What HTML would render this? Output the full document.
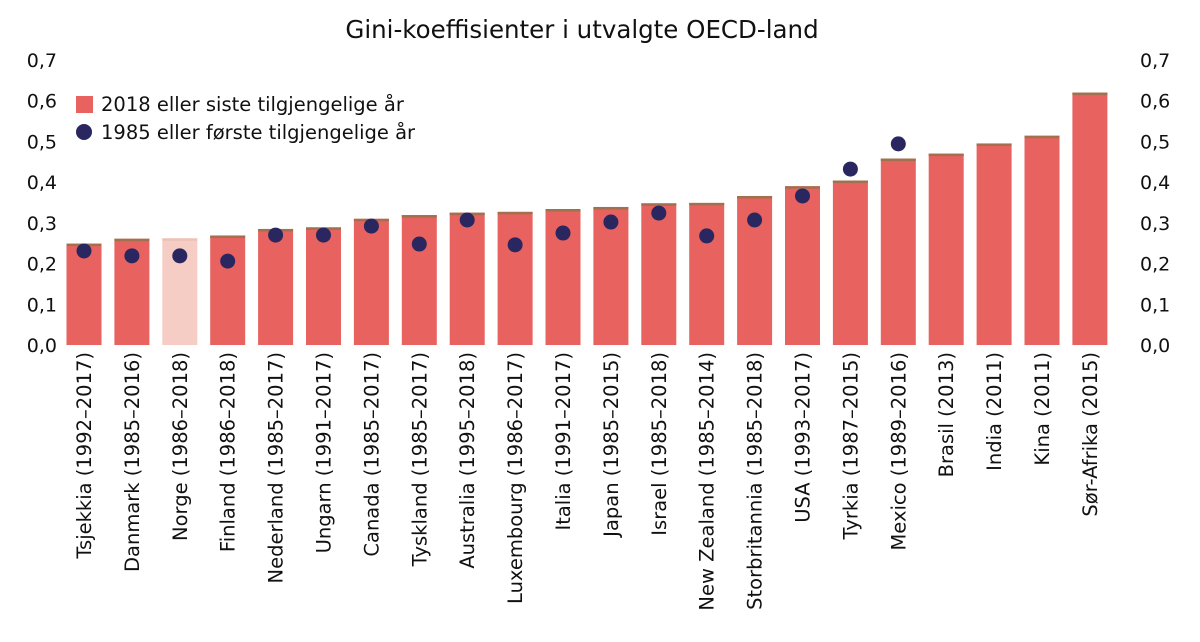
<!DOCTYPE html>
<html><head><meta charset="utf-8"><style>
body{margin:0;background:#fff;}
svg text{font-family:"DejaVu Sans","Liberation Sans",sans-serif;fill:#111;}
</style></head><body>
<svg id="chart" width="1200" height="637" xmlns="http://www.w3.org/2000/svg">
<text x="582" y="38" font-size="24.5" text-anchor="middle">Gini-koeffisienter i utvalgte OECD-land</text>
<g id="yl"></g><g id="yr"></g><g id="bars"></g><g id="dots"></g><g id="xl"></g>
<g>
<rect x="76" y="96" width="17" height="17" fill="#e8625f"/>
<text x="101" y="111" font-size="19.5">2018 eller siste tilgjengelige år</text>
<circle cx="84" cy="132" r="8" fill="#2a2660"/>
<text x="101" y="139" font-size="19.5">1985 eller første tilgjengelige år</text>
</g>
</svg>
<script>
const categories=["Tsjekkia (1992–2017)","Danmark (1985–2016)","Norge (1986–2018)","Finland (1986–2018)","Nederland (1985–2017)","Ungarn (1991–2017)","Canada (1985–2017)","Tyskland (1985–2017)","Australia (1995–2018)","Luxembourg (1986–2017)","Italia (1991–2017)","Japan (1985–2015)","Israel (1985–2018)","New Zealand (1985–2014)","Storbritannia (1985–2018)","USA (1993–2017)","Tyrkia (1987–2015)","Mexico (1989–2016)","Brasil (2013)","India (2011)","Kina (2011)","Sør-Afrika (2015)"];
const latest=[0.249,0.261,0.262,0.269,0.285,0.289,0.310,0.319,0.325,0.327,0.334,0.339,0.348,0.349,0.366,0.390,0.404,0.458,0.470,0.495,0.514,0.620];
const first=[0.231,0.219,0.219,0.206,0.270,0.270,0.292,0.248,0.307,0.246,0.275,0.302,0.324,0.268,0.307,0.366,0.432,0.494,null,null,null,null];
const ticks=[0,0.1,0.2,0.3,0.4,0.5,0.6,0.7];
const tickLabels=["0,0","0,1","0,2","0,3","0,4","0,5","0,6","0,7"];
const ns="http://www.w3.org/2000/svg";
const y=v=>345-v/0.7*285;
const x=i=>84+i*47.9;
function mk(t,a,p){const e=document.createElementNS(ns,t);for(const k in a)e.setAttribute(k,a[k]);document.getElementById(p).appendChild(e);return e;}
ticks.forEach((t,i)=>{
 let a=mk("text",{x:57,y:y(t)+7,"font-size":19,"text-anchor":"end"},"yl");a.textContent=tickLabels[i];
 
 
 let b=mk("text",{x:1140,y:y(t)+7,"font-size":19},"yr");b.textContent=tickLabels[i];
 
 
});
categories.forEach((c,i)=>{
 const r=mk("rect",{x:x(i)-17.5,y:y(latest[i]),width:35,height:345-y(latest[i]),fill:i==2?"#f5cdc5":"#e8625f"},"bars");
 
 
 const top=mk("rect",{x:x(i)-17.5,y:y(latest[i]),width:35,height:2.5,fill:i==2?"#ecc2b8":"#a1704e"},"bars");
 
 
 if(first[i]!==null){
  const d=mk("circle",{cx:x(i),cy:y(first[i]),r:7.5,fill:"#2a2660"},"dots");
  
  
 }
 const t=mk("text",{"font-size":19.5,"text-anchor":"end",transform:`translate(${x(i)+7},352) rotate(-90)`},"xl");
 t.textContent=c;
 
 
});
</script>
</body></html>
